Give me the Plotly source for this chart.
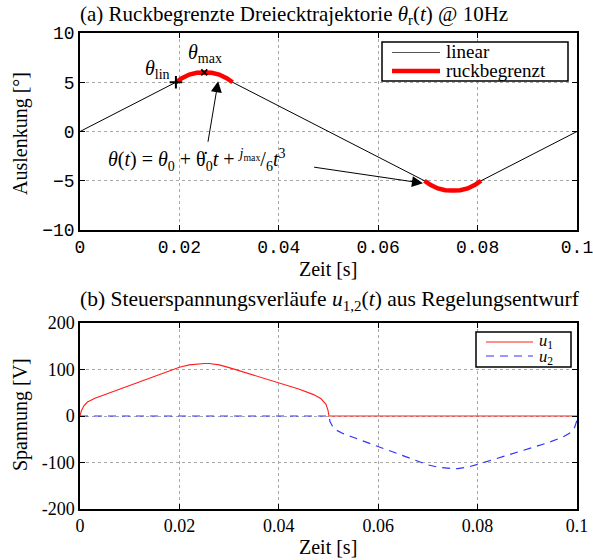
import plotly.graph_objects as go

# ---------------- data ----------------
# (a) trajectory: jerk-limited segments around peak and trough
peak_t = [0.0193, 0.0205, 0.0220, 0.0235, 0.0250, 0.0265, 0.0280, 0.0295, 0.0307]
peak_v = [5.0, 5.42, 5.78, 5.96, 6.0, 5.96, 5.78, 5.42, 5.0]
trough_t = [0.0693, 0.0705, 0.0720, 0.0735, 0.0750, 0.0765, 0.0780, 0.0795, 0.0807]
trough_v = [-5.0, -5.42, -5.78, -5.96, -6.0, -5.96, -5.78, -5.42, -5.0]
start_t, start_v = [0.0], [0.0]
end_t, end_v = [0.1], [0.0]
mark_t = [0.0193, 0.025]          # theta_lin, theta_max
mark_v = [5.0, 6.0]

# (b) control voltages
u1_t = [0.0, 0.0003, 0.0008, 0.0015, 0.003, 0.006, 0.010, 0.015, 0.020, 0.022, 0.024,
        0.025, 0.026, 0.028, 0.030, 0.035, 0.040, 0.044, 0.047, 0.0485, 0.0495, 0.0499,
        0.0501, 0.1]
u1_v = [0, 12, 22, 30, 38, 50, 66, 86, 105, 110, 113,
        113, 113, 110, 104, 88, 72, 58, 46, 37, 25, 12,
        0, 0]
u2_t = [0.0, 0.0501, 0.0503, 0.0508, 0.0515, 0.053, 0.056, 0.060, 0.065, 0.070, 0.072,
        0.074, 0.075, 0.076, 0.078, 0.080, 0.085, 0.090, 0.094, 0.097, 0.0985, 0.0995,
        0.0999, 0.1]
u2_v = [0, 0, -12, -22, -30, -38, -50, -66, -86, -105, -110,
        -113, -113, -113, -110, -104, -88, -72, -58, -46, -37, -25,
        -12, 0]

x_ticks = [0, 0.02, 0.04, 0.06, 0.08, 0.1]
x_labels = ["0", "0.02", "0.04", "0.06", "0.08", "0.1"]
y1_ticks = [-10, -5, 0, 5, 10]
y1_labels = ["\u221210", "\u22125", "0", "5", "10"]
y2_ticks = [-200, -100, 0, 100, 200]
y2_labels = ["-200", "-100", "0", "100", "200"]

legend1_names = ["linear", "ruckbegrenzt"]
legend2_names = ["<i>u</i><sub>1</sub>", "<i>u</i><sub>2</sub>"]

SERIF = "Liberation Serif"
MONO = "Liberation Mono"

RED = "rgb(255,30,30)"
BLUE = "rgb(50,50,255)"

fig = go.Figure()

black_t = start_t + peak_t + trough_t + end_t
black_v = start_v + peak_v + trough_v + end_v
fig.add_trace(go.Scatter(x=black_t, y=black_v, mode="lines", name=legend1_names[0],
                         line=dict(color="black", width=1), xaxis="x", yaxis="y"))
fig.add_trace(go.Scatter(x=peak_t + [None] + trough_t, y=peak_v + [None] + trough_v,
                         mode="lines", name=legend1_names[1],
                         line=dict(color="#ff0000", width=4.5), xaxis="x", yaxis="y"))
fig.add_trace(go.Scatter(x=mark_t[:1], y=mark_v[:1], mode="markers",
                         marker=dict(symbol="cross-thin", size=9, color="black",
                                     line=dict(color="black", width=2)),
                         xaxis="x", yaxis="y"))
fig.add_trace(go.Scatter(x=mark_t[1:], y=mark_v[1:], mode="markers",
                         marker=dict(symbol="x-thin", size=6, color="black",
                                     line=dict(color="black", width=1.8)),
                         xaxis="x", yaxis="y"))

fig.add_trace(go.Scatter(x=u2_t, y=u2_v, mode="lines", name=legend2_names[1],
                         line=dict(color=BLUE, width=1.2, dash="8px,6px"),
                         xaxis="x2", yaxis="y2"))
fig.add_trace(go.Scatter(x=u1_t, y=u1_v, mode="lines", name=legend2_names[0],
                         line=dict(color=RED, width=1.1), xaxis="x2", yaxis="y2"))

axis_common = dict(showline=True, linecolor="black", linewidth=1.5, mirror="ticks",
                   ticks="inside", ticklen=5, tickwidth=1.2, tickcolor="black",
                   showgrid=True, gridcolor="#a8a8a8", griddash="dot", gridwidth=1,
                   zeroline=False, tickmode="array", automargin=False,
                   ticklabeloverflow="allow")

W, H = 593, 560
def px(x):
    return x / W
def py(y):
    return 1 - y / H

xdom = [px(80), px(577)]
fig.update_layout(
    width=W, height=H, margin=dict(l=0, r=0, t=0, b=0, autoexpand=False),
    paper_bgcolor="white", plot_bgcolor="white", showlegend=False,
    xaxis=dict(domain=xdom, range=[0, 0.1], tickvals=x_ticks, ticktext=x_labels,
               tickfont=dict(family=MONO, size=18, color="black"), anchor="y",
               **axis_common),
    yaxis=dict(domain=[py(230), py(33)], range=[-10, 10], tickvals=y1_ticks,
               ticktext=y1_labels, tickfont=dict(family=MONO, size=18, color="black"),
               anchor="x", **axis_common),
    xaxis2=dict(domain=xdom, range=[0, 0.1], tickvals=x_ticks, ticktext=x_labels,
                tickfont=dict(family=SERIF, size=18, color="black"), anchor="y2",
                **axis_common),
    yaxis2=dict(domain=[py(509), py(323)], range=[-200, 200], tickvals=y2_ticks,
                ticktext=y2_labels, tickfont=dict(family=SERIF, size=18, color="black"),
                anchor="x2", **axis_common),
)

ann = []
shapes = []
tf = dict(family=SERIF, size=20, color="black")
tfl = dict(family=SERIF, size=21, color="black")
tleg = dict(family=SERIF, size=19, color="black")
tleg2 = dict(family=SERIF, size=16.5, color="black")


def text_ann(x, y, text, font=tf, xanchor="center", angle=0):
    return dict(xref="paper", yref="paper", x=px(x), y=py(y), xanchor=xanchor,
                yanchor="middle", showarrow=False, font=font, text=text, textangle=angle)


ann.append(text_ann(78, 15, "(a) Ruckbegrenzte Dreiecktrajektorie <i>θ</i><sub>r</sub>(<i>t</i>) @ 10Hz",
                    tfl, "left"))
ann.append(text_ann(78, 300, "(b) Steuerspannungsverläufe <i>u</i><sub>1,2</sub>(<i>t</i>) aus Regelungsentwurf",
                    dict(family=SERIF, size=21.5, color="black"), "left"))
ann.append(text_ann(328, 269, "Zeit [s]"))
ann.append(text_ann(328, 547, "Zeit [s]"))
ann.append(text_ann(20, 134, "Auslenkung [°]", angle=-90))
ann.append(text_ann(20, 415, "Spannung [V]", angle=-90))
# point labels
ann.append(text_ann(157, 69, "<i>θ</i><sub>lin</sub>"))
ann.append(text_ann(205, 53, "<i>θ</i><sub>max</sub>"))
# formula
ann.append(text_ann(106, 160,
                    "<i>θ</i>(<i>t</i>) = <i>θ</i><sub>0</sub> + θ\u0307<sub>0</sub><i>t</i> + "
                    "<sup><i>j</i><sub>max</sub></sup>/<sub>6</sub><i>t</i><sup>3</sup>",
                    xanchor="left"))
# arrows
ann.append(dict(xref="x", yref="y", axref="x", ayref="y", x=0.0278, y=5.1, ax=0.0257, ay=-1.2,
                text="", showarrow=True, arrowhead=2, arrowsize=2.2, arrowwidth=1,
                arrowcolor="black"))
ann.append(dict(xref="x", yref="y", axref="x", ayref="y", x=0.0690, y=-5.25, ax=0.0468, ay=-3.6,
                text="", showarrow=True, arrowhead=2, arrowsize=2.2, arrowwidth=1,
                arrowcolor="black"))

# legend (a)
shapes.append(dict(type="rect", xref="paper", yref="paper", x0=px(382), x1=px(568),
                   y0=py(81), y1=py(42), line=dict(color="black", width=1.5),
                   fillcolor="white", layer="above"))
shapes.append(dict(type="line", xref="paper", yref="paper", x0=px(392), x1=px(440),
                   y0=py(52.5), y1=py(52.5), line=dict(color="#555555", width=1.2),
                   layer="above"))
shapes.append(dict(type="line", xref="paper", yref="paper", x0=px(392), x1=px(440),
                   y0=py(71), y1=py(71), line=dict(color="#ff0000", width=4.5),
                   layer="above"))
ann.append(text_ann(444, 51.5, legend1_names[0], tleg, xanchor="left"))
ann.append(text_ann(444, 70.5, legend1_names[1], tleg, xanchor="left"))
# legend (b)
shapes.append(dict(type="rect", xref="paper", yref="paper", x0=px(476), x1=px(571),
                   y0=py(367), y1=py(332), line=dict(color="black", width=1.5),
                   fillcolor="white", layer="above"))
shapes.append(dict(type="line", xref="paper", yref="paper", x0=px(486), x1=px(533),
                   y0=py(342), y1=py(342), line=dict(color=RED, width=1.1),
                   layer="above"))
shapes.append(dict(type="line", xref="paper", yref="paper", x0=px(486), x1=px(533),
                   y0=py(356), y1=py(356), line=dict(color=BLUE, width=1.2, dash="8px,6px"),
                   layer="above"))
ann.append(text_ann(537, 340.5, legend2_names[0], tleg2, xanchor="left"))
ann.append(text_ann(537, 357, legend2_names[1], tleg2, xanchor="left"))

fig.update_layout(annotations=ann, shapes=shapes)

fig.write_html("out.html")
